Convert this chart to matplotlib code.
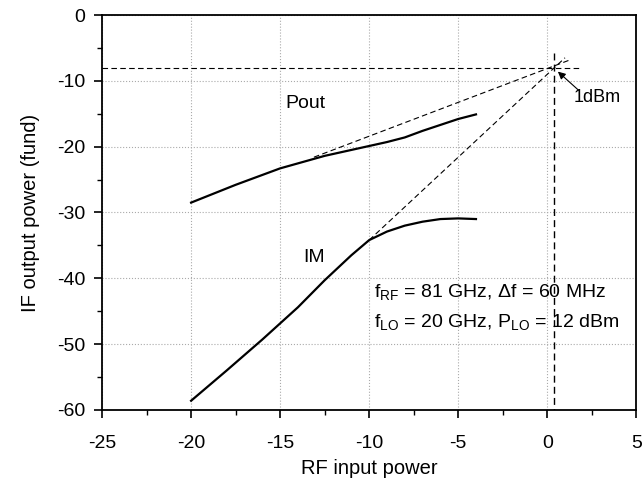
import numpy as np
import matplotlib
matplotlib.use("Agg")
import matplotlib.pyplot as plt
from matplotlib.ticker import MultipleLocator

plt.rcParams["font.family"] = ["Liberation Sans", "DejaVu Sans"]
plt.rcParams["axes.unicode_minus"] = False
plt.rcParams["mathtext.fontset"] = "custom"
plt.rcParams["mathtext.rm"] = "Liberation Sans"
plt.rcParams["mathtext.it"] = "Liberation Sans"

# measured curves
pout_x = [-20, -17.5, -15, -12.5, -10, -9, -8, -7, -6, -5, -4]
pout_y = [-28.5, -25.8, -23.3, -21.4, -19.9, -19.3, -18.6, -17.6, -16.7, -15.8, -15.1]

im_x = [-20, -18, -16, -14, -12.5, -11, -10, -9, -8, -7, -6, -5, -4]
im_y = [-58.6, -54.0, -49.3, -44.4, -40.3, -36.5, -34.2, -32.9, -32.0, -31.4, -31.0, -30.9, -31.0]

# intercept point and extrapolation lines
ip_x, ip_y = 0.4, -8.0
pout_ext_x = [-13.1, 1.3]
pout_ext_y = [-21.6, -6.8]
im_ext_x = [-10.0, 1.0]
im_ext_y = [-34.2, -6.5]

fig = plt.figure(figsize=(6.42, 4.84), dpi=100)
ax = fig.add_axes([0.159, 0.153, 0.832, 0.816])

ax.plot(pout_x, pout_y, color="black", lw=1.6)
ax.plot(im_x, im_y, color="black", lw=1.6)

dash = dict(color="black", lw=0.8, ls=(0, (5, 3)))
ax.plot(pout_ext_x, pout_ext_y, **dash)
ax.plot(im_ext_x, im_ext_y, **dash)
ax.plot([-25, 1.8], [ip_y, ip_y], **dash)
ax.plot([ip_x, ip_x], [-5.8, -60], color="black", lw=1.0, ls=(0, (5, 3)))

ax.annotate("", xy=(0.6, -8.6), xytext=(1.75, -11.4),
            arrowprops=dict(arrowstyle="-|>", color="black", lw=0.8,
                            shrinkA=0, shrinkB=0, mutation_scale=11))
ax.text(1.5, -12.6, "1dBm", fontsize=13, ha="left", va="center")

ax.text(-14.7, -13.4, "Pout", fontsize=14, va="center")
ax.text(-13.7, -36.9, "IM", fontsize=14, va="center")
ax.text(-9.7, -42.1, r"f$_{\mathrm{RF}}$ = 81 GHz, Δf = 60 MHz", fontsize=14, va="center")
ax.text(-9.7, -46.7, r"f$_{\mathrm{LO}}$ = 20 GHz, P$_{\mathrm{LO}}$ = 12 dBm", fontsize=14, va="center")

ax.set_xlim(-25, 5)
ax.set_ylim(-60, 0)
ax.xaxis.set_major_locator(MultipleLocator(5))
ax.xaxis.set_minor_locator(MultipleLocator(2.5))
ax.yaxis.set_major_locator(MultipleLocator(10))
ax.yaxis.set_minor_locator(MultipleLocator(5))
ax.tick_params(which="major", direction="out", length=6, width=1.2, labelsize=14)
ax.tick_params(axis="x", which="major", pad=12)
ax.tick_params(axis="y", which="major", pad=6)
ax.tick_params(which="minor", direction="out", length=3.5, width=1.0)
ax.grid(True, which="major", color="#aaaaaa", ls=":", lw=0.8)
for s in ax.spines.values():
    s.set_linewidth(1.3)

ax.set_xlabel("RF input power", fontsize=14.5, labelpad=5)
ax.set_ylabel("IF output power (fund)", fontsize=14.5, labelpad=12)

fig.savefig("out.png", dpi=100)
